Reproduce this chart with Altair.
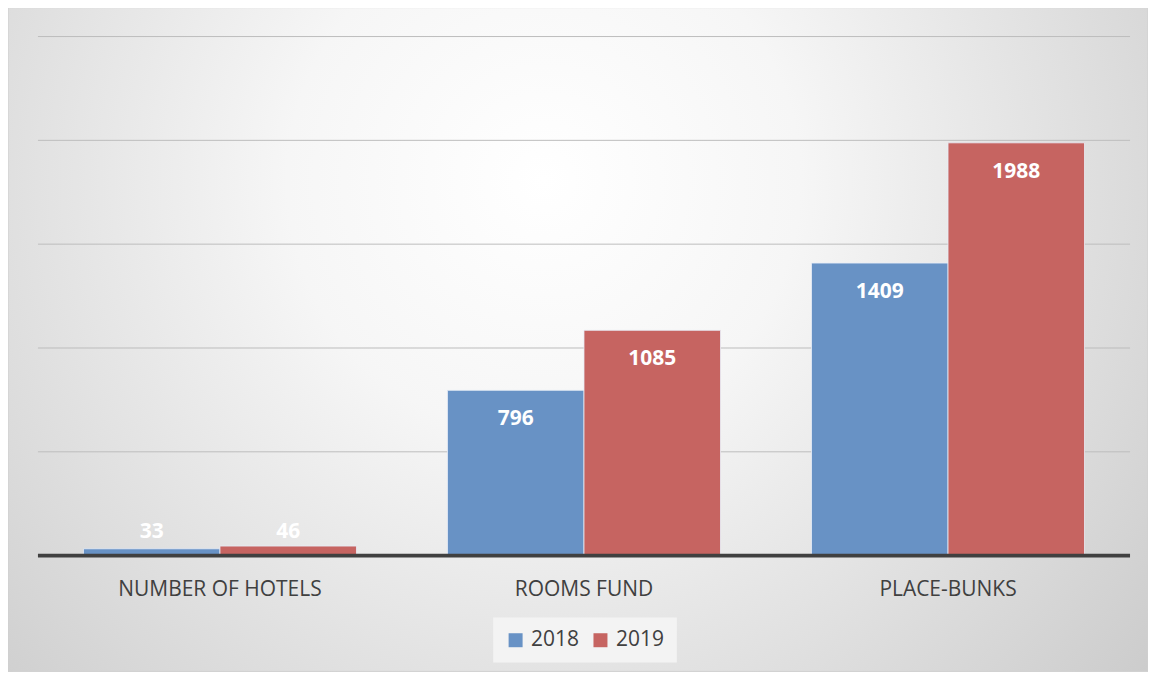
import altair as alt
import pandas as pd

categories = ["NUMBER OF HOTELS", "ROOMS FUND", "PLACE-BUNKS"]
years = ["2018", "2019"]
values_2018 = [33, 796, 1409]
values_2019 = [46, 1085, 1988]
grid_values = [500, 1000, 1500, 2000, 2500]
colors = ["#6892c5", "#c66461"]

rows = []
for c, a, b in zip(categories, values_2018, values_2019):
    rows.append({"category": c, "year": "2018", "value": a, "zero": 0})
    rows.append({"category": c, "year": "2019", "value": b, "zero": 0})
df = pd.DataFrame(rows)

W, H = 1094, 520
PAD = {"left": 30, "top": 28, "right": 18, "bottom": 118}
FONT = "Open Sans"

x_enc = alt.X("category:N", sort=categories, title=None,
              scale=alt.Scale(paddingInner=0.25, paddingOuter=0.125),
              axis=alt.Axis(labelFont=FONT, labelFontSize=21, labelColor="#404040",
                            ticks=False, domain=False, labelPadding=23, zindex=1,
                            labelAngle=0, labelLimit=0))
y_scale = alt.Scale(domain=[0, 2500], nice=False)
xo = alt.XOffset("year:N", sort=years, scale=alt.Scale(paddingInner=0, paddingOuter=0))

bg = alt.Chart(pd.DataFrame({"k": [0]})).mark_rect(
    fill=alt.Gradient(
        gradient="radial",
        stops=[alt.GradientStop(color="#ffffff", offset=0),
               alt.GradientStop(color="#f6f6f6", offset=0.3),
               alt.GradientStop(color="#c6c6c6", offset=1)],
        x1=0.47, y1=0.36, x2=0.47, y2=0.36, r1=0, r2=0.75),
    stroke="#cfcfcf", strokeWidth=1,
).encode(x=alt.value(-30), x2=alt.value(W + 18), y=alt.value(-29), y2=alt.value(H + 116))

grid = alt.Chart(pd.DataFrame({"v": grid_values})).mark_rule(
    color="#bdbdbd", strokeWidth=1
).encode(y=alt.Y("v:Q", scale=y_scale, axis=None))

bars = alt.Chart(df).mark_bar(stroke="#e8eef7", strokeWidth=1, strokeOpacity=0.8).encode(
    x=x_enc,
    xOffset=xo,
    y=alt.Y("value:Q", scale=y_scale, axis=None),
    color=alt.Color("year:N", sort=years,
                    scale=alt.Scale(domain=years, range=colors),
                    legend=alt.Legend(title=None, orient="none", legendX=456, legendY=582,
                                      direction="horizontal", fillColor="#f3f3f3",
                                      padding=12, symbolType="square", symbolSize=196,
                                      symbolStrokeWidth=0, labelFont=FONT,
                                      labelFontSize=21, labelColor="#404040",
                                      columnPadding=10, labelOffset=5)),
)

baseline = alt.Chart(pd.DataFrame({"v": [0]})).mark_rule(
    color="#404040", strokeWidth=4
).encode(y=alt.Y("v:Q", scale=y_scale, axis=None))

big = alt.Chart(df).transform_filter("datum.value >= 200").mark_text(
    font=FONT, fontSize=21, fontWeight="bold", color="white", dy=29, baseline="middle"
).encode(x=x_enc, xOffset=xo, y=alt.Y("value:Q", scale=y_scale, axis=None),
         text="value:Q")

small = alt.Chart(df).transform_filter("datum.value < 200").mark_text(
    font=FONT, fontSize=21, fontWeight="bold", color="white", dy=-24, baseline="middle"
).encode(x=x_enc, xOffset=xo, y=alt.Y("zero:Q", scale=y_scale, axis=None),
         text="value:Q")

chart = alt.layer(bg, grid, bars, baseline, big, small).properties(
    width=W, height=H, autosize=alt.AutoSizeParams(type="none"), padding=PAD,
    background="white"
).configure_view(stroke=None)

chart.save("out.html", embed_options={"renderer": "svg", "actions": False})
